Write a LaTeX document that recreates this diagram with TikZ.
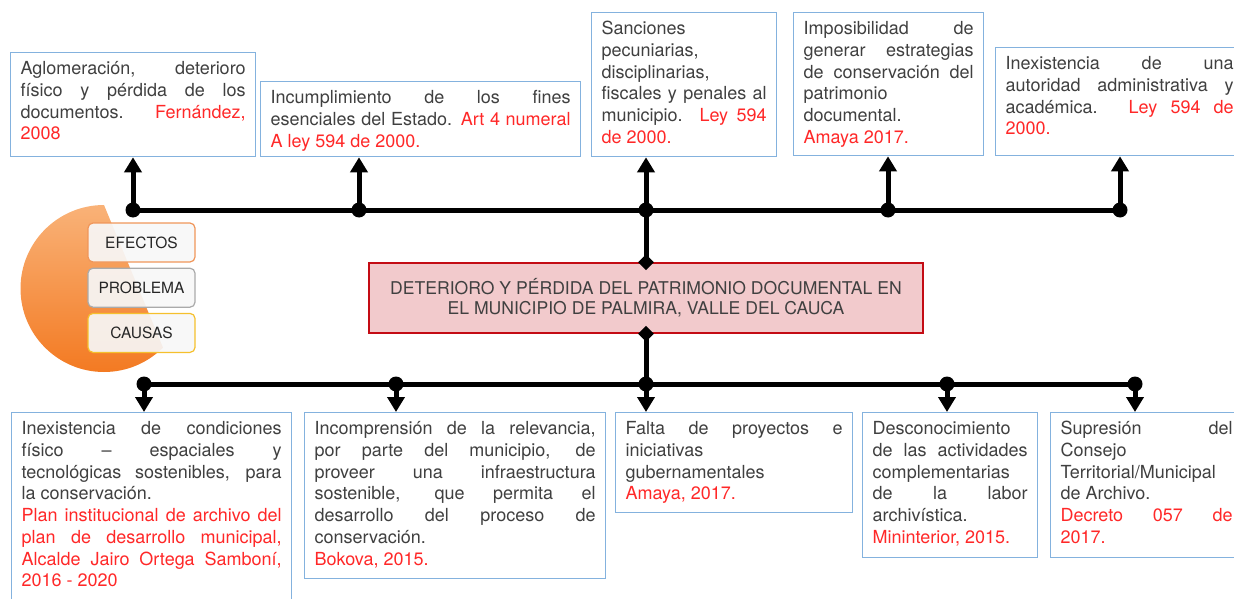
\documentclass[tikz,border=0pt]{standalone}
\usepackage{fontspec}
\setmainfont{TeX Gyre Heros}
\usetikzlibrary{positioning,arrows.meta,shapes.geometric}

\definecolor{texto}{RGB}{64,64,64}
\definecolor{rojo}{RGB}{255,40,40}
\definecolor{azul}{RGB}{132,178,222}
\definecolor{rosa}{RGB}{242,202,204}
\definecolor{vino}{RGB}{196,12,20}
\definecolor{pieclaro}{RGB}{249,178,120}
\definecolor{pieoscuro}{RGB}{243,122,34}
\definecolor{bordeef}{RGB}{240,150,90}
\definecolor{bordepr}{RGB}{170,170,170}
\definecolor{bordeca}{RGB}{245,192,45}

\newcommand{\rojo}[1]{\textcolor{rojo}{#1}}
% justified line / ragged line
\newcommand{\lj}[1]{\hbox to\hsize{\strut#1}}
\newcommand{\lr}[1]{\hbox{\strut#1}}
\newcommand{\caja}[3]{\parbox[t][\dimexpr#2-14pt\relax][t]{#1}{#3}}

\begin{document}
\begin{tikzpicture}[x=1pt,y=-1pt,
  efecto/.style={draw=azul, line width=1.3pt, fill=white, text=texto, inner xsep=10pt, inner ysep=7pt, anchor=north west, font=\fontsize{18}{21.7}\selectfont},
  linea/.style={line width=5pt},
  flecha/.style={line width=5pt, -{Triangle[length=15pt,width=17pt]}},
  punto/.style={circle, fill=black, inner sep=0pt, minimum size=15pt},
  rombo/.style={diamond, fill=black, inner sep=0pt, minimum size=16pt},
  leyenda/.style={rounded corners=5pt, fill=gray!6, fill opacity=0.92, text opacity=1, line width=1.2pt, minimum width=107pt, minimum height=39pt, inner sep=0pt, font=\fontsize{15.5}{18}\selectfont, text=black!85}]
\useasboundingbox (0,0) rectangle (1234,599);

% legend
\begin{scope}
\clip (92,176) -- (183,396) -- (0,396) -- (0,176) -- cycle;
\shade[top color=pieclaro, bottom color=pieoscuro] (104,288.5) circle[radius=83.5];
\end{scope}
\node[leyenda, draw=bordeef] (lef) at (141.5,242.5) {EFECTOS};
\node[leyenda, draw=bordepr, below=5pt of lef] (lpr) {PROBLEMA};
\node[leyenda, draw=bordeca, below=5pt of lpr] (lca) {CAUSAS};

% efectos
\node[efecto] (e1) at (10,52) {\caja{225pt}{104pt}{
  \lj{Aglomeración, deterioro}
  \lj{físico y pérdida de los}
  \lj{documentos. \rojo{Fernández,}}
  \lr{\rojo{2008}}}};
\node[efecto] (e2) at (260,81) {\caja{300pt}{75pt}{
  \lj{Incumplimiento de los fines}
  \lj{esenciales del Estado. \rojo{Art 4 numeral}}
  \lr{\rojo{A ley 594 de 2000.}}}};
\node[efecto] (e3) at (591,12) {\caja{165pt}{144pt}{
  \lr{Sanciones}
  \lr{pecuniarias,}
  \lr{disciplinarias,}
  \lj{fiscales y penales al}
  \lj{municipio. \rojo{Ley 594}}
  \lr{\rojo{de 2000.}}}};
\node[efecto] (e4) at (793,12) {\caja{170pt}{143pt}{
  \lj{Imposibilidad de}
  \lj{generar estrategias}
  \lj{de conservación del}
  \lr{patrimonio}
  \lr{documental.}
  \lr{\rojo{Amaya 2017.}}}};
\node[efecto] (e5) at (995,47) {\caja{228pt}{108pt}{
  \lj{Inexistencia de una}
  \lj{autoridad administrativa y}
  \lj{académica. \rojo{Ley 594 de}}
  \lr{\rojo{2000.}}}};

% problema
\node[draw=vino, fill=rosa, line width=1.5pt, minimum width=554pt, minimum height=70pt, align=center, text=texto, font=\fontsize{17.6}{20}\selectfont] (pr) at (646,298)
  {DETERIORO Y PÉRDIDA DEL PATRIMONIO DOCUMENTAL EN\\EL MUNICIPIO DE PALMIRA, VALLE DEL CAUCA};

% causas
\node[efecto] (c1) at (11,412) {\caja{260pt}{200pt}{
  \lj{Inexistencia de condiciones}
  \lj{físico – espaciales y}
  \lj{tecnológicas sostenibles, para}
  \lr{la conservación.}
  \lj{\rojo{Plan institucional de archivo del}}
  \lj{\rojo{plan de desarrollo municipal,}}
  \lj{\rojo{Alcalde Jairo Ortega Samboní,}}
  \lr{\rojo{2016 - 2020}}}};
\node[efecto] (c2) at (304,412) {\caja{281pt}{166pt}{
  \lj{Incomprensión de la relevancia,}
  \lj{por parte del municipio, de}
  \lj{proveer una infraestructura}
  \lj{sostenible, que permita el}
  \lj{desarrollo del proceso de}
  \lr{conservación.}
  \lr{\rojo{Bokova, 2015.}}}};
\node[efecto] (c3) at (615,412) {\caja{217pt}{100pt}{
  \lj{Falta de proyectos e}
  \lr{iniciativas}
  \lr{gubernamentales}
  \lr{\rojo{Amaya, 2017.}}}};
\node[efecto] (c4) at (862,412) {\caja{155pt}{145pt}{
  \lr{Desconocimiento}
  \lj{de las actividades}
  \lr{complementarias}
  \lj{de la labor}
  \lr{archivística.}
  \lr{\rojo{Mininterior, 2015.}}}};
\node[efecto] (c5) at (1050,412) {\caja{172pt}{145pt}{
  \lj{Supresión del}
  \lr{Consejo}
  \lr{Territorial/Municipal}
  \lr{de Archivo.}
  \lj{\rojo{Decreto 057 de}}
  \lr{\rojo{2017.}}}};

% lines
\foreach \x [count=\i] in {133,359,646,888,1120}
  \node[punto] (t\i) at (\x,210) {};
\foreach \x [count=\i] in {144,396,646,947,1135}
  \node[punto] (b\i) at (\x,384) {};
\draw[linea] (t1.center) -- (t5.center);
\draw[linea] (b1.center) -- (b5.center);
\foreach \i in {1,...,5} {
  \draw[flecha] (t\i.center) -- (t\i |- e\i.south);
  \draw[flecha] (b\i.center) -- (b\i |- c\i.north);
}
\draw[linea] (t3.center) -- (pr.north);
\draw[linea] (pr.south) -- (b3.center);
\node[rombo] (r1) at (pr.north) {};
\node[rombo] (r2) at (pr.south) {};
\end{tikzpicture}
\end{document}
